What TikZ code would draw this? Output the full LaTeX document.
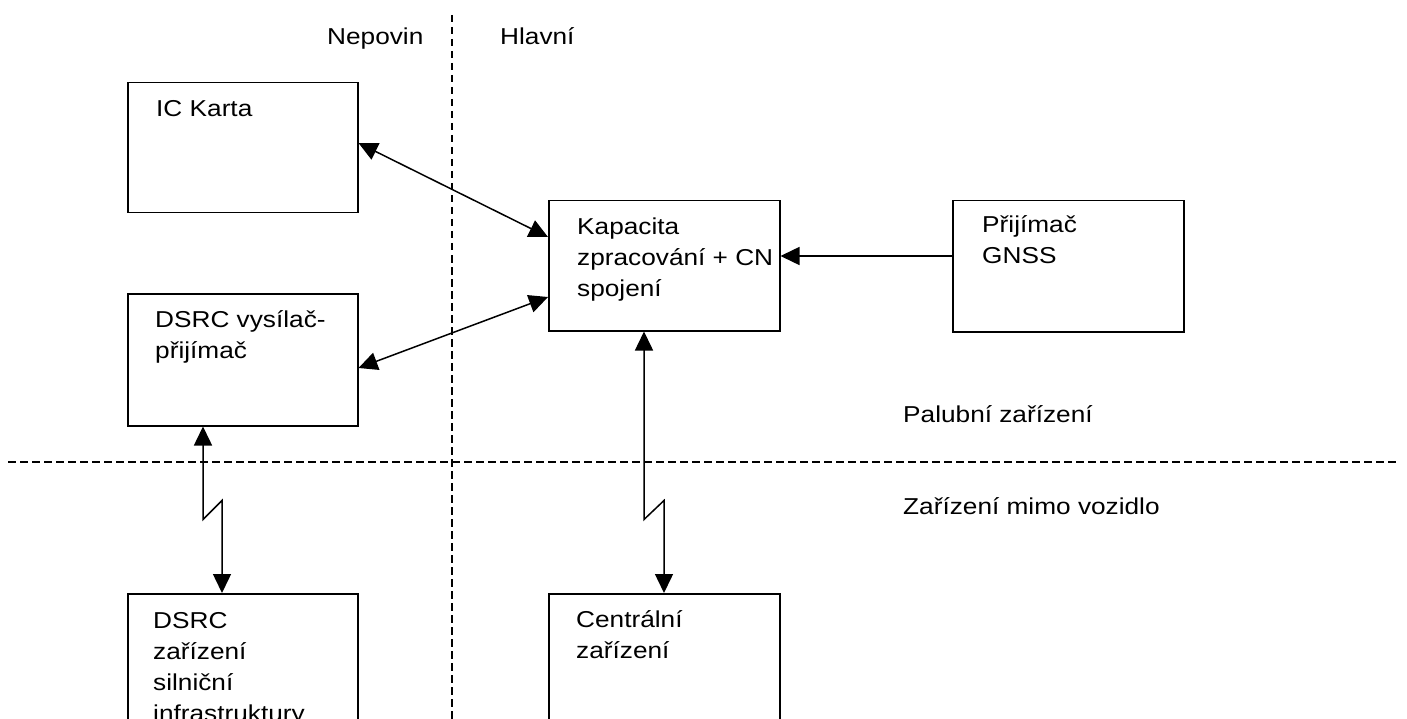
\documentclass[tikz,border=0pt]{standalone}
\usepackage{fontspec}
\setmainfont{Liberation Sans}
\usepackage{graphicx}
\usetikzlibrary{arrows.meta}
% left-aligned block of lines, first baseline as reference, slightly widened
\newcommand\lines[1]{\scalebox{1.14}[1]{\begin{tabular}[t]{@{}l@{}}#1\end{tabular}}}

\begin{document}
\begin{tikzpicture}[x=1pt,y=-1pt,
  box/.style={draw, line width=1.5pt, anchor=north west, inner sep=0pt,
              minimum width=230pt},
  lbl/.style={anchor=base west, inner sep=0pt, font=\fontsize{23}{31}\selectfont},
  sep/.style={line width=1.3pt, dash pattern=on 7.5pt off 4.5pt},
  tip/.tip={Triangle[length=19pt,width=18pt]},
  link/.style={line width=1.5pt, tip-tip},
  onelink/.style={line width=1.5pt, -tip}]

  \useasboundingbox (0,0) rectangle (1407,719);
  \fill[white] (0,0) rectangle (1407,719);
  \clip (0,0) rectangle (1407,719);

  % zone separators
  \draw[sep] (452,15) -- (452,725);
  \draw[sep] (8,462) -- (1400,462);

  % units
  \node[box, minimum height=130pt] (ic)   at (127,82)  {};
  \node[box, minimum height=132pt] (dsrc) at (127,293) {};
  \node[box, minimum height=130pt, minimum width=231pt] (kap)  at (548,200) {};
  \node[box, minimum height=131pt, minimum width=231pt] (gnss) at (952,200) {};
  \node[box, minimum height=200pt] (road) at (127,593) {};
  \node[box, minimum height=200pt, minimum width=231pt] (cen)  at (548,593) {};

  % texts
  \node[lbl] (tnep) at (327,45)  {\lines{Nepovin}};
  \node[lbl] (thla) at (500,45)  {\lines{Hlavní}};
  \node[lbl] (tic)  at (156,117) {\lines{IC Karta}};
  \node[lbl] (tkap) at (577,235) {\lines{Kapacita\\zpracování + CN\\spojení}};
  \node[lbl] (tgns) at (982,233) {\lines{Přijímač\\GNSS}};
  \node[lbl] (tdsr) at (155,327) {\lines{DSRC vysílač-\\přijímač}};
  \node[lbl] (troa) at (153,628) {\lines{DSRC\\zařízení\\silniční\\infrastruktury}};
  \node[lbl] (tcen) at (576,627) {\lines{Centrální\\zařízení}};
  \node[lbl] (tpal) at (903,422) {\lines{Palubní zařízení}};
  \node[lbl] (tmim) at (903,514) {\lines{Zařízení mimo vozidlo}};

  % on-board links
  \draw[link] ([yshift=-61pt]ic.north east) -- ([yshift=-37pt]kap.north west);
  \draw[link] ([yshift=-97pt]kap.north west) -- ([yshift=-75pt]dsrc.north east);
  \draw[onelink] ([yshift=-56pt]gnss.north west) -- ([yshift=-56pt]kap.north east);

  % radio links to off-board equipment
  \draw[link] ([xshift=76pt]dsrc.south west) -- ++(0,93) -- ++(19,-19)
              -- ([xshift=95pt]road.north west);
  \draw[link] ([xshift=96pt]kap.south west) -- ++(0,188) -- ++(20,-19)
              -- ([xshift=116pt]cen.north west);
\end{tikzpicture}
\end{document}
